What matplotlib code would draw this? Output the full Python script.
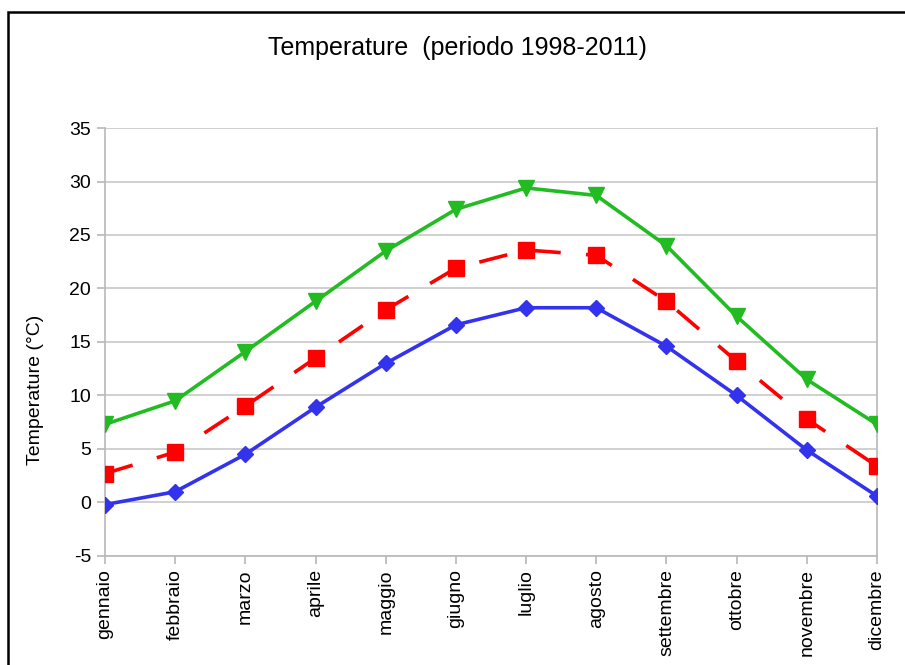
import matplotlib
matplotlib.use('Agg')
import matplotlib.pyplot as plt
from matplotlib.patches import Rectangle

# ─── Data ───
mesi = ["gennaio", "febbraio", "marzo", "aprile", "maggio", "giugno",
        "luglio", "agosto", "settembre", "ottobre", "novembre", "dicembre"]
t_max = [7.3, 9.5, 14.1, 18.8, 23.5, 27.4, 29.4, 28.7, 24.0, 17.4, 11.5, 7.3]
t_med = [2.7, 4.7, 9.0, 13.5, 18.0, 21.9, 23.6, 23.1, 18.8, 13.2, 7.8, 3.4]
t_min = [-0.2, 1.0, 4.5, 8.9, 13.0, 16.6, 18.2, 18.2, 14.6, 10.0, 4.9, 0.6]
y_ticks = [-5, 0, 5, 10, 15, 20, 25, 30, 35]

plt.rcParams['font.family'] = ['Liberation Sans', 'DejaVu Sans']

fig = plt.figure(figsize=(9.05, 6.65), dpi=100)
ax = fig.add_axes([0.116, 0.164, 0.853, 0.6435])

# frame around the whole chart (cut off on the right and bottom)
fig.patches.append(Rectangle((8 / 905, -0.05), 1.1, 1.05 - 12 / 665,
                             transform=fig.transFigure, fill=False,
                             edgecolor='black', linewidth=1.8))

x = list(range(len(mesi)))
ax.plot(x, t_max, color='#22bb22', linewidth=2.6, marker='v',
        markersize=11, zorder=3)
ax.plot(x, t_med, color='#ff0000', linewidth=2.6, marker='s',
        markersize=11.5, dashes=(8, 7), zorder=3)
ax.plot(x, t_min, color='#3333ee', linewidth=2.6, marker='D',
        markersize=8.5, zorder=3)

ax.set_xlim(0, len(mesi) - 1)
ax.set_ylim(-5, 35)
ax.set_yticks(y_ticks)
ax.set_yticklabels([str(v) for v in y_ticks], fontsize=14)
ax.set_xticks(x)
ax.set_xticklabels(mesi, rotation=90, fontsize=14)
ax.grid(axis='y', color='#c8c8c8', linewidth=1.2, zorder=0)

for s in ax.spines.values():
    s.set_color('#b8b8b8')
    s.set_linewidth(1.2)
ax.spines['top'].set_visible(False)
ax.tick_params(axis='both', color='#b8b8b8', width=1.2, length=6)
ax.tick_params(axis='y', pad=4)

# y label sits lower than the axis centre in the original
fig.text(36 / 905, 1 - 390 / 665, 'Temperature (°C)', rotation=90,
         ha='center', va='center', fontsize=14)
fig.text(0.506, 0.928, 'Temperature  (periodo 1998-2011)', ha='center',
         va='center', fontsize=18)

fig.savefig('out.png', dpi=100)
